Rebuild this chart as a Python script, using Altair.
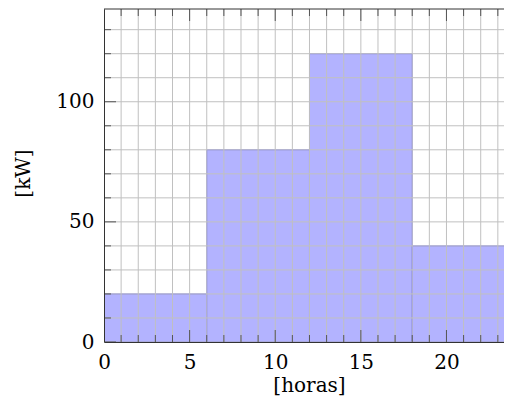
import altair as alt
import pandas as pd

# Data
hour_start = [0, 6, 12, 18]
hour_end = [6, 12, 18, 24]
power_kw = [20, 80, 120, 40]

x_grid = list(range(0, 25))
y_grid = list(range(0, 141, 10))
x_major = [0, 5, 10, 15, 20]
y_major = [0, 50, 100]
x_minor = [v for v in x_grid if v not in x_major]
y_minor = [v for v in y_grid if v not in y_major]

# visible window (the reference crops the ends of the axes)
X_VISIBLE_MAX = 23.36
Y_VISIBLE_MAX = 138.6

W, H = 400, 333
FONT = "DejaVu Serif"
FS = 20
GRID = "#c0c0c0"
TICK = "#555555"
FRAME = "#333333"

bars_df = pd.DataFrame({"start": hour_start, "end": hour_end, "kw": power_kw})

xscale = alt.Scale(domain=[0, X_VISIBLE_MAX], nice=False, zero=False)
yscale = alt.Scale(domain=[0, Y_VISIBLE_MAX], nice=False)

x_axis = alt.Axis(
    values=x_major, grid=False, ticks=False, tickSize=0, domain=True,
    domainColor=FRAME, domainWidth=1, labelFont=FONT, labelFontSize=FS,
    labelColor="black", labelPadding=10, labelFlush=False, labelOverlap=False,
    title="[horas]", titleFont=FONT, titleFontSize=FS, titleFontWeight="normal",
    titleColor="black", titleX=W / 2 + 5, titleY=43, titleBaseline="middle",
    titleAlign="center", zindex=1,
)
y_axis = alt.Axis(
    values=y_major, grid=False, ticks=False, tickSize=0, domain=True,
    domainColor=FRAME, domainWidth=1, labelFont=FONT, labelFontSize=FS,
    labelColor="black", labelPadding=10, labelFlush=False, labelOverlap=False,
    title="[kW]", titleFont=FONT, titleFontSize=FS, titleFontWeight="normal",
    titleColor="black", titleX=-81, titleY=164, titleBaseline="middle",
    titleAlign="center", titleAngle=270, zindex=1,
)


def X(field):
    return alt.X(field, scale=xscale, axis=x_axis)


def Y(field):
    return alt.Y(field, scale=yscale, axis=y_axis)


bars = alt.Chart(bars_df).mark_rect(
    fill="#b3b3ff", stroke="#7070f5", strokeWidth=1, clip=True
).encode(
    x=X("start:Q"),
    x2="end:Q",
    y=Y("kw:Q"),
    y2=alt.datum(0),
)

xg = alt.Chart(pd.DataFrame({"v": x_grid})).mark_rule(
    color=GRID, strokeWidth=1, clip=True
).encode(x=X("v:Q"))
yg = alt.Chart(pd.DataFrame({"v": y_grid})).mark_rule(
    color=GRID, strokeWidth=1, clip=True
).encode(y=Y("v:Q"))


def xticks(vals, length):
    base = alt.Chart(pd.DataFrame({"v": vals})).mark_rule(color=TICK, strokeWidth=1, clip=True)
    bottom = base.encode(x=X("v:Q"), y=alt.value(H), y2=alt.value(H - length))
    top = base.encode(x=X("v:Q"), y=alt.value(0), y2=alt.value(length))
    return [bottom, top]


def yticks(vals, length):
    base = alt.Chart(pd.DataFrame({"v": vals})).mark_rule(color=TICK, strokeWidth=1, clip=True)
    left = base.encode(y=Y("v:Q"), x=alt.value(0), x2=alt.value(length))
    return [left]


top_frame = alt.Chart(pd.DataFrame({"v": [0]})).mark_rule(color=FRAME, strokeWidth=1).encode(
    y=alt.value(0), x=alt.value(0), x2=alt.value(W)
)

layers = ([bars, xg, yg] + xticks(x_minor, 7) + xticks(x_major, 12)
          + yticks(y_minor, 7) + yticks(y_major, 12) + [top_frame])

chart = alt.layer(*layers).properties(
    width=W, height=H,
    autosize=alt.AutoSizeParams(type="none"),
    padding={"left": 96, "top": 1, "right": 0, "bottom": 70},
).configure_view(stroke=None)

chart.save("out.html", embed_options={"renderer": "svg", "actions": False})
